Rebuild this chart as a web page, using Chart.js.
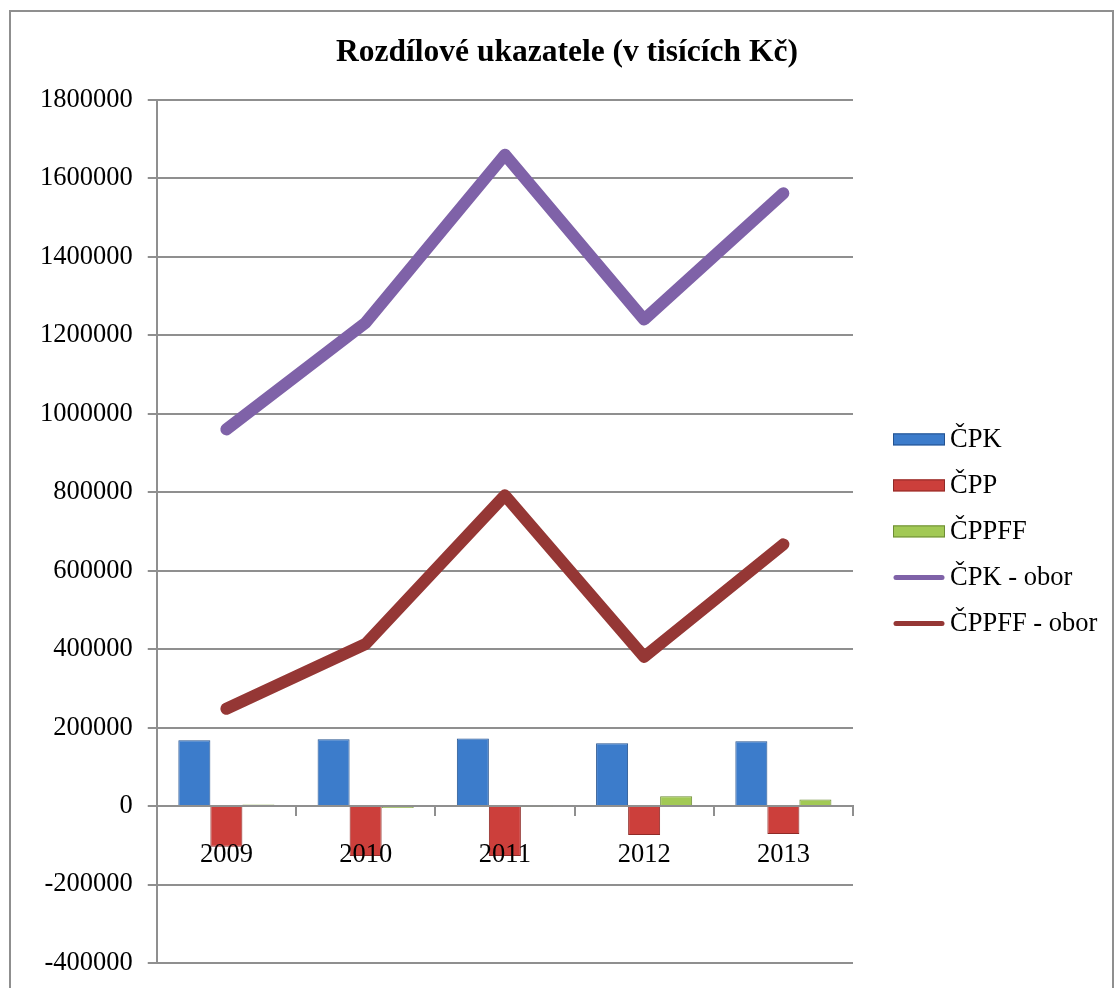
<!DOCTYPE html>
<html>
<head>
<meta charset="utf-8">
<script src="https://cdn.jsdelivr.net/npm/chart.js@4/dist/chart.umd.min.js"></script>
<style>
  html, body { margin: 0; padding: 0; background: #fff; }
  #wrap { width: 1115px; height: 988px; }
</style>
</head>
<body>
<div id="wrap"><canvas id="myChart" width="1115" height="988"></canvas></div>
<script>
const categories = ["2009", "2010", "2011", "2012", "2013"];
const cpk = [168000, 170000, 172000, 160000, 165000];
const cpp = [-104000, -127000, -127000, -74000, -71000];
const cppff = [4000, -5000, -2000, 25000, 17000];
const cpkObor = [960000, 1232000, 1660000, 1240000, 1562000];
const cppffObor = [248000, 413000, 792000, 380000, 667000];

const yMin = -400000;
const yMax = 1800000;
const yStep = 200000;

const serif = "'Liberation Serif', 'Times New Roman', serif";
const gridGray = "#8f8f8f";

// outer frame around the whole chart
const framePlugin = {
  id: "frame",
  beforeDraw(chart) {
    const ctx = chart.ctx;
    ctx.save();
    ctx.fillStyle = "#fff";
    ctx.fillRect(0, 0, chart.width, chart.height);
    ctx.strokeStyle = gridGray;
    ctx.lineWidth = 2;
    ctx.strokeRect(10, 11, 1103, 1000);
    ctx.restore();
  }
};

// legend drawn by hand so the boxes sit where the original has them
const sideLegend = {
  id: "sideLegend",
  afterDraw(chart) {
    const ctx = chart.ctx;
    const area = chart.chartArea;
    const sets = chart.data.datasets;
    const step = 46;
    const startY = (area.top + area.bottom) / 2 - step * (sets.length - 1) / 2;
    const boxX = area.right + 40;
    const boxW = 52;
    ctx.save();
    ctx.font = "26.5px " + serif;
    ctx.textBaseline = "middle";
    sets.forEach((ds, i) => {
      const y = startY + i * step;
      if (ds.type === "line") {
        ctx.strokeStyle = ds.borderColor;
        ctx.lineWidth = 5;
        ctx.lineCap = "round";
        ctx.beginPath();
        ctx.moveTo(boxX + 3, y);
        ctx.lineTo(boxX + boxW - 3, y);
        ctx.stroke();
      } else {
        ctx.fillStyle = ds.backgroundColor;
        ctx.fillRect(boxX, y - 6, boxW, 12);
        ctx.strokeStyle = ds.borderColor;
        ctx.lineWidth = 1;
        ctx.strokeRect(boxX + 0.5, y - 5.5, boxW - 1, 11);
      }
      ctx.fillStyle = "#000";
      ctx.fillText(ds.label, boxX + boxW + 5, y + 1);
    });
    ctx.restore();
  }
};

new Chart(document.getElementById("myChart"), {
  type: "bar",
  data: {
    labels: categories,
    datasets: [
      { label: "ČPK", data: cpk, backgroundColor: "#3c7ccb", borderColor: "#24528f", borderWidth: 1 },
      { label: "ČPP", data: cpp, backgroundColor: "#cc3f3b", borderColor: "#8e2a27", borderWidth: 1 },
      { label: "ČPPFF", data: cppff, backgroundColor: "#a2c955", borderColor: "#6d8c36", borderWidth: 1 },
      {
        type: "line", label: "ČPK - obor", data: cpkObor,
        borderColor: "#7f62a8", backgroundColor: "#7f62a8", borderWidth: 12,
        borderCapStyle: "round", borderJoinStyle: "round", pointRadius: 0, tension: 0, fill: false
      },
      {
        type: "line", label: "ČPPFF - obor", data: cppffObor,
        borderColor: "#953735", backgroundColor: "#953735", borderWidth: 12,
        borderCapStyle: "round", borderJoinStyle: "round", pointRadius: 0, tension: 0, fill: false
      }
    ]
  },
  options: {
    responsive: false,
    animation: false,
    layout: { padding: { left: 25, right: 6, top: 0, bottom: 25 } },
    datasets: {
      bar: { categoryPercentage: 0.69, barPercentage: 1.0 }
    },
    plugins: {
      legend: { display: false },
      tooltip: { enabled: false },
      title: {
        display: true,
        text: "Rozdílové ukazatele (v tisících Kč)",
        color: "#000",
        font: { family: serif, size: 31.5, weight: "bold" },
        padding: { top: 34, bottom: 28 }
      }
    },
    scales: {
      x: {
        position: { y: 0 },
        offset: true,
        grid: { drawOnChartArea: false, tickLength: 9, color: gridGray, lineWidth: 2, offset: true },
        border: { color: gridGray, width: 2 },
        ticks: { z: 1, color: "#000", font: { family: serif, size: 26.5 }, padding: 24, maxRotation: 0 }
      },
      y: {
        min: yMin,
        max: yMax,
        grid: { color: gridGray, lineWidth: 2, tickLength: 9 },
        border: { color: gridGray, width: 2 },
        ticks: {
          stepSize: yStep,
          color: "#000",
          font: { family: serif, size: 26.5 },
          padding: 15,
          callback: (v) => String(v)
        },
        // tick padding would otherwise push the plot bottom up
        afterFit: (scale) => { scale.paddingTop = 16; scale.paddingBottom = 16; }
      },
      // empty axis on the right that only keeps room for the legend
      legendSpace: {
        type: "linear",
        position: "right",
        grid: { display: false },
        border: { display: false },
        ticks: { display: false },
        afterFit: (scale) => { scale.width = 256; }
      }
    }
  },
  plugins: [framePlugin, sideLegend]
});
</script>
</body>
</html>
